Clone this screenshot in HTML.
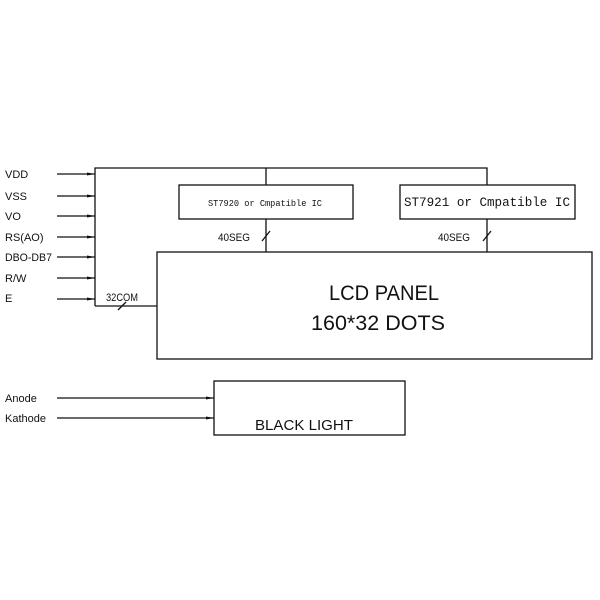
<!DOCTYPE html>
<html><head><style>body{margin:0;background:#fff}svg{display:block}</style></head>
<body>
<svg width="600" height="600" viewBox="0 0 600 600" xmlns="http://www.w3.org/2000/svg" font-family="Liberation Sans, sans-serif" fill="#111">
<defs><marker id="a" markerWidth="8" markerHeight="6" refX="8" refY="3" orient="auto" markerUnits="userSpaceOnUse"><path d="M0,1.5 L8,3 L0,4.5z" fill="#111"/></marker></defs>
<g stroke="#111" stroke-width="1.3" fill="none">
<path d="M95,306 V168 H487 V185 M266,168 V185"/>
<path d="M95,306 H157"/>
<rect x="179" y="185" width="174" height="34"/>
<rect x="400" y="185" width="175" height="34"/>
<path d="M266,219 V252 M487,219 V252"/>
<rect x="157" y="252" width="435" height="107"/>
<rect x="214" y="381" width="191" height="54"/>
<path d="M262,241 L270,231 M483,241 L491,231 M118,310 L126,302"/>
<g marker-end="url(#a)">
<path d="M57,174 H95"/><path d="M57,196 H95"/><path d="M57,216 H95"/><path d="M57,237 H95"/><path d="M57,257 H95"/><path d="M57,278 H95"/><path d="M57,299 H95"/>
<path d="M57,398 H214"/><path d="M57,418 H214"/>
</g>
</g>
<g font-size="11" stroke="none">
<text x="5" y="178">VDD</text><text x="5" y="200">VSS</text><text x="5" y="220">VO</text>
<text x="5" y="241">RS(AO)</text><text x="5" y="261" textLength="47" lengthAdjust="spacingAndGlyphs">DBO-DB7</text>
<text x="5" y="282">R/W</text><text x="5" y="302">E</text>
<text x="5" y="402">Anode</text><text x="5" y="422">Kathode</text>
<text x="106" y="301" textLength="32" lengthAdjust="spacingAndGlyphs">32COM</text>
<text x="218" y="241" textLength="32" lengthAdjust="spacingAndGlyphs">40SEG</text>
<text x="438" y="241" textLength="32" lengthAdjust="spacingAndGlyphs">40SEG</text>
<text x="208" y="206" font-size="9" font-family="Liberation Mono, monospace" textLength="114" lengthAdjust="spacingAndGlyphs">ST7920 or Cmpatible IC</text>
<text x="404" y="206" font-size="13" font-family="Liberation Mono, monospace" textLength="166" lengthAdjust="spacingAndGlyphs">ST7921 or Cmpatible IC</text>
<text x="255" y="430" font-size="15" textLength="98" lengthAdjust="spacingAndGlyphs">BLACK LIGHT</text>
<text x="329" y="300" font-size="21" textLength="110" lengthAdjust="spacingAndGlyphs">LCD PANEL</text>
<text x="311" y="330" font-size="21" textLength="134" lengthAdjust="spacingAndGlyphs">160*32 DOTS</text>
</g>
</svg>
</body></html>
